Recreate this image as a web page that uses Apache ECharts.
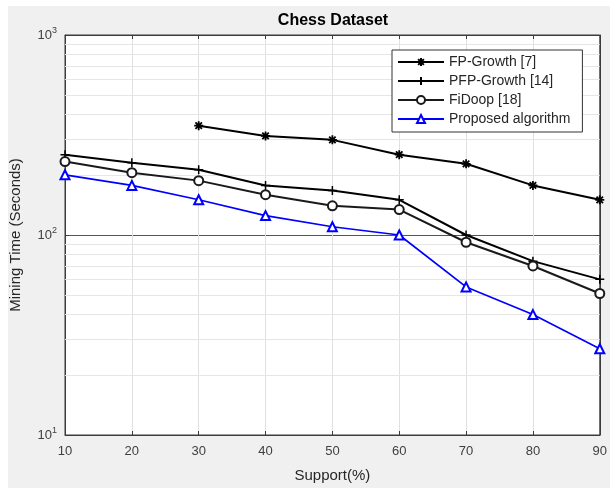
<!DOCTYPE html>
<html>
<head>
<meta charset="utf-8">
<script src="https://cdn.jsdelivr.net/npm/echarts@6/dist/echarts.min.js"></script>
<style>
  html, body { margin: 0; padding: 0; background: #fff; }
  #chart { width: 610px; height: 488px; }
</style>
</head>
<body>
<div id="chart"></div>
<script>
// support levels (%)
var supports = [10, 20, 30, 40, 50, 60, 70, 80, 90];
// mining time in seconds (FP-Growth starts at 30%)
var fpGrowth = [null, null, 352, 313, 299, 252, 227, 177, 150];
var pfpGrowth = [252, 230, 212, 177, 167, 150, 100, 74, 60];
var fiDoop = [233, 205, 187, 159, 140, 134, 92, 70, 51];
var proposed = [200, 177, 150, 125, 110, 100, 55, 40, 27];
var seriesNames = ['FP-Growth [7]', 'PFP-Growth [14]', 'FiDoop [18]', 'Proposed algorithm'];
// minor grid lines of the log axis
var minorGrid = [20, 30, 40, 50, 60, 70, 80, 90, 200, 300, 400, 500, 600, 700, 800, 900];

var asterisk = 'path://M0,-5L0,5M-5,0L5,0M-3.6,-3.6L3.6,3.6M-3.6,3.6L3.6,-3.6';
var plus = 'path://M0,-5L0,5M-5,0L5,0';

function pairs(vals) {
    var res = [];
    for (var i = 0; i < supports.length; i++) {
        if (vals[i] != null) res.push([supports[i], vals[i]]);
    }
    return res;
}

var myChart = echarts.init(document.getElementById('chart'));
var txt = '#262626';
myChart.setOption({
    animation: false,
    graphic: [
        { type: 'rect', z: -10, shape: { x: 8, y: 6, width: 602, height: 482 }, style: { fill: '#f0f0f0' } },
        { type: 'text', x: 333, y: 21, style: { text: 'Chess Dataset', fontSize: 16, fontWeight: 'bold', fontFamily: 'Liberation Sans', fill: '#000', align: 'center', verticalAlign: 'middle' } }
    ],
    grid: {
        left: 65, top: 35, right: 10, bottom: 52,
        show: true, backgroundColor: '#fff', borderColor: '#3c3c3c', borderWidth: 1
    },
    legend: {
        orient: 'vertical',
        left: 392, top: 50, z: 10,
        backgroundColor: '#fff',
        borderColor: '#333', borderWidth: 1, borderRadius: 0,
        padding: [5, 12, 6, 5],
        itemWidth: 46, itemHeight: 10, itemGap: 5,
        textStyle: { fontSize: 14, color: txt, fontFamily: 'Liberation Sans' },
        data: seriesNames
    },
    xAxis: [{
        type: 'value', min: 10, max: 90, interval: 10,
        name: 'Support(%)', nameLocation: 'middle', nameGap: 33,
        nameTextStyle: { fontSize: 15, color: txt, fontFamily: 'Liberation Sans' },
        axisLine: { lineStyle: { color: '#3c3c3c' } },
        axisTick: { inside: true, length: 4, lineStyle: { color: '#3c3c3c' } },
        axisLabel: { fontSize: 13, color: '#404040', margin: 10, fontFamily: 'Liberation Sans' },
        splitLine: { lineStyle: { color: '#e0e0e0' } }
    }, {
        type: 'value', min: 10, max: 90, interval: 10, position: 'top',
        axisLine: { lineStyle: { color: '#3c3c3c' } },
        axisTick: { inside: true, length: 4, lineStyle: { color: '#3c3c3c' } },
        axisLabel: { show: false }, splitLine: { show: false }
    }],
    yAxis: [{
        type: 'log', logBase: 10, min: 10, max: 1000,
        name: 'Mining Time (Seconds)', nameLocation: 'middle', nameGap: 42,
        nameTextStyle: { fontSize: 15, color: txt, fontFamily: 'Liberation Sans' },
        axisLine: { show: true, lineStyle: { color: '#3c3c3c' } },
        axisTick: { show: true, inside: true, length: 4, lineStyle: { color: '#3c3c3c' } },
        axisLabel: {
            margin: 8,
            formatter: function (v) {
                return '{b|10}{s|' + Math.round(Math.log10(v)) + '}';
            },
            rich: {
                b: { fontSize: 13, color: '#404040', fontFamily: 'Liberation Sans' },
                s: { fontSize: 9, color: '#404040', fontFamily: 'Liberation Sans', verticalAlign: 'top', padding: [0, 0, 8, 0] }
            }
        },
        splitLine: { lineStyle: { color: '#555' } }
    }, {
        type: 'log', logBase: 10, min: 10, max: 1000, position: 'right',
        axisLine: { show: true, lineStyle: { color: '#3c3c3c' } },
        axisTick: { show: true, inside: true, length: 4, lineStyle: { color: '#3c3c3c' } },
        axisLabel: { show: false }, splitLine: { show: false }
    }],
    series: [{
        type: 'line', silent: true, data: [],
        markLine: {
            silent: true, symbol: 'none', label: { show: false }, z: 1,
            lineStyle: { color: '#e6e6e6', type: 'solid', width: 1 },
            data: minorGrid.map(function (v) { return { yAxis: v }; })
        },
        z: 1
    }, {
        name: seriesNames[0], type: 'line', data: pairs(fpGrowth),
        symbol: asterisk, symbolSize: 9,
        lineStyle: { color: '#000', width: 2 },
        itemStyle: { color: '#000', borderColor: '#000', borderWidth: 1.8 },
        z: 5
    }, {
        name: seriesNames[1], type: 'line', data: pairs(pfpGrowth),
        symbol: plus, symbolSize: 9,
        lineStyle: { color: '#000', width: 2 },
        itemStyle: { color: '#000', borderColor: '#000', borderWidth: 1.5 },
        z: 5
    }, {
        name: seriesNames[2], type: 'line', data: pairs(fiDoop),
        symbol: 'emptyCircle', symbolSize: 9,
        lineStyle: { color: '#1a1a1a', width: 2 },
        itemStyle: { color: '#1a1a1a', borderColor: '#1a1a1a', borderWidth: 1.5 },
        z: 5
    }, {
        name: seriesNames[3], type: 'line', data: pairs(proposed),
        symbol: 'emptyTriangle', symbolSize: 9,
        lineStyle: { color: '#0000ff', width: 1.7 },
        itemStyle: { color: '#0000ff', borderColor: '#0000ff', borderWidth: 1.5 },
        z: 5
    }]
});
window.addEventListener('resize', function () { myChart.resize(); });
</script>
</body>
</html>
